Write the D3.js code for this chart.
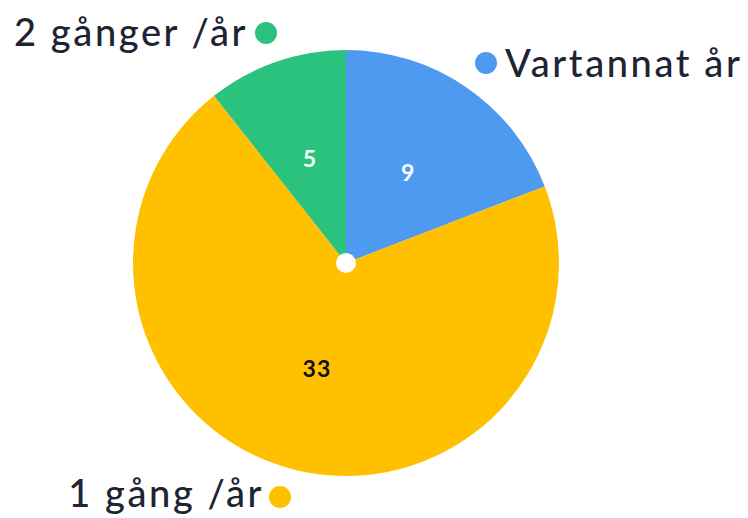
<!DOCTYPE html>
<html lang="sv">
<head>
<meta charset="UTF-8">
<title>Pie</title>
<script src="https://d3js.org/d3.v7.min.js"></script>
<style>
  body { margin: 0; background: #fff; }
  text { font-family: Lato, "Open Sans", sans-serif; }
</style>
</head>
<body>
<script>
// data
const categories = ["Vartannat år", "1 gång /år", "2 gånger /år"];
const values = [9, 33, 5];
const colors = ["#4E9AF1", "#FFC000", "#2BC27D"];
const labelColors = ["#ffffff", "#111111", "#ffffff"];

const width = 748, height = 518;
const cx = 346, cy = 263, radius = 213;

const svg = d3.select("body").append("svg")
    .attr("width", width)
    .attr("height", height);

const g = svg.append("g")
    .attr("transform", "translate(" + cx + "," + cy + ")");

const pie = d3.pie().sort(null).value(function (d) { return d; });
const arcs = pie(values);

const arc = d3.arc().innerRadius(0).outerRadius(radius);
const labelArc = d3.arc().innerRadius(110).outerRadius(110);

g.selectAll("path")
    .data(arcs)
    .enter().append("path")
    .attr("d", arc)
    .attr("fill", function (d, i) { return colors[i]; });

// value labels
g.selectAll("text.val")
    .data(arcs)
    .enter().append("text")
    .attr("class", "val")
    .attr("transform", function (d) { return "translate(" + labelArc.centroid(d) + ")"; })
    .attr("text-anchor", "middle")
    .attr("dy", "0.36em")
    .attr("font-size", 23)
    .attr("font-weight", "bold")
    .attr("letter-spacing", 1)
    .attr("fill", function (d, i) { return labelColors[i]; })
    .text(function (d) { return d.data; });

// white hole in the middle
g.append("circle").attr("r", 10).attr("fill", "#fff");

// legend labels around the pie
const legendPos = [
    { dot: [486, 63], text: [505, 77], anchor: "start" },
    { dot: [280, 497], text: [264, 507], anchor: "end" },
    { dot: [266, 33], text: [248, 46], anchor: "end" }
];

const leg = svg.selectAll("g.leg")
    .data(categories)
    .enter().append("g")
    .attr("class", "leg");

leg.append("circle")
    .attr("cx", function (d, i) { return legendPos[i].dot[0]; })
    .attr("cy", function (d, i) { return legendPos[i].dot[1]; })
    .attr("r", 11)
    .attr("fill", function (d, i) { return colors[i]; });

leg.append("text")
    .attr("x", function (d, i) { return legendPos[i].text[0]; })
    .attr("y", function (d, i) { return legendPos[i].text[1]; })
    .attr("text-anchor", function (d, i) { return legendPos[i].anchor; })
    .attr("font-size", 38)
    .attr("font-weight", 500)
    .attr("letter-spacing", 2.6)
    .attr("fill", "#1E2432")
    .text(function (d) { return d; });
</script>
</body>
</html>
